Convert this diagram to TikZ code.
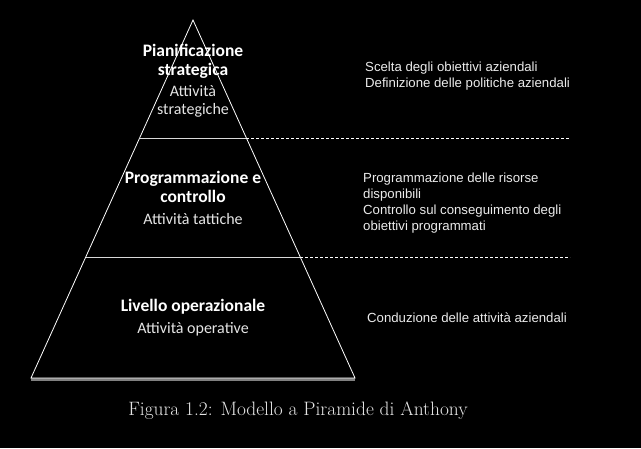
\documentclass[tikz,border=0pt]{standalone}
\usepackage{fontspec}
\newfontfamily\calibri{Carlito}
\newfontfamily\arial{Liberation Sans}
\usetikzlibrary{positioning}

\begin{document}
\begin{tikzpicture}[x=1pt,y=-1pt]
\tikzstyle{level}=[text=white,align=center,inner sep=0pt,
font=\calibri\bfseries\fontsize{17.5}{19}\selectfont]
\tikzstyle{activity}=[text=white!90!black,align=center,inner sep=0pt,
font=\calibri\fontsize{16}{18}\selectfont]
\tikzstyle{goal}=[text=white!92!black,align=left,anchor=west,inner sep=0pt,
font=\arial\fontsize{13.2}{16}\selectfont]
\tikzstyle{sep}=[white,line width=0.8pt,dash pattern=on 3pt off 2pt]

\fill[black] (0,0) rectangle (641,448);
\useasboundingbox (0,0) rectangle (641,448);

\coordinate (apex) at (193,20);
\coordinate (bl) at (31,378);
\coordinate (br) at (355,378);
\coordinate (l1) at (139.6,138);
\coordinate (r1) at (246.4,138);
\coordinate (l2) at (86,257);
\coordinate (r2) at (300,257);
\coordinate (d1) at (570,138);
\coordinate (d2) at (570,257);

\draw[gray,line width=3pt] ([yshift=-1.5pt]bl) -- ([yshift=-1.5pt]br);
\draw[white,line width=0.8pt] (bl) -- (apex) -- (br) -- cycle;
\draw[white!85!black,line width=1pt] (l1) -- (r1);
\draw[white!85!black,line width=1pt] (l2) -- (r2);
\draw[sep] (r1) -- (d1);
\draw[sep] (r2) -- (d2);

\node[level] at (193,61) (p1) {Pianificazione\\strategica};
\node[activity] at (193,101) (a1) {Attività\\strategiche};
\node[level] at (193,187) (p2) {Programmazione e\\controllo};
\node[activity] at (193,219) (a2) {Attività tattiche};
\node[level] at (193,307) (p3) {Livello operazionale};
\node[activity] at (193,329) (a3) {Attività operative};

\node[goal] at (365,76) (g1) {Scelta degli obiettivi aziendali\\Definizione delle politiche aziendali};
\node[goal] at (363,203) (g2) {Programmazione delle risorse\\disponibili\\Controllo sul conseguimento degli\\obiettivi programmati};
\node[goal] at (367,318) (g3) {Conduzione delle attività aziendali};

\node[text=white!90!black,font=\fontsize{19.4}{22}\selectfont] at (298,411) (cap) {Figura 1.2: Modello a Piramide di Anthony};
\end{tikzpicture}
\end{document}
